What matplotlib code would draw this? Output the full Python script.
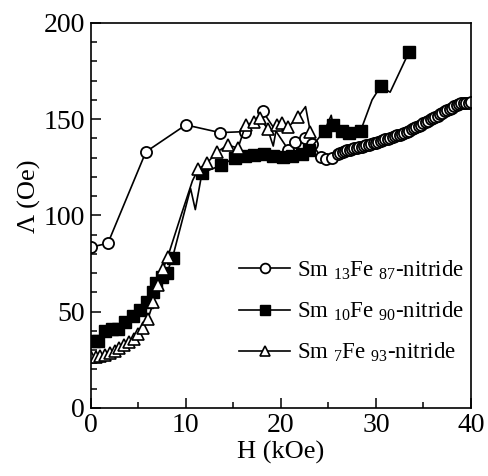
import matplotlib
matplotlib.use("Agg")
import matplotlib.pyplot as plt
import numpy as np

plt.rcParams['font.family'] = ['Liberation Serif', 'DejaVu Serif']
plt.rcParams['mathtext.fontset'] = 'custom'
plt.rcParams['mathtext.rm'] = 'Liberation Serif'
plt.rcParams['mathtext.it'] = 'Liberation Serif:italic'

# Sm13Fe87-nitride (open circles)
h_13 = [0, 1.8, 5.8, 10.0, 13.6, 16.2, 18.1, 20.8, 21.5, 22.5, 23.3, 24.2, 24.8,
        25.4, 26.0, 26.25, 26.5, 26.75, 27.0, 27.25, 27.5, 27.75, 28.0, 28.25,
        28.5, 28.75, 29.0, 29.25, 29.5, 29.75, 30.0, 30.25, 30.5, 30.75, 31.0,
        31.25, 31.5, 31.75, 32.0, 32.25, 32.5, 32.75, 33.0, 33.25, 33.5, 33.75,
        34.0, 34.25, 34.5, 34.75, 35.0, 35.25, 35.5, 35.75, 36.0, 36.25, 36.5,
        36.75, 37.0, 37.25, 37.5, 37.75, 38.0, 38.25, 38.5, 38.75, 39.0, 39.25,
        39.5, 39.75, 40.0]
a_13 = [83.5, 85.5, 133, 147, 143, 143.5, 154, 134, 138, 140, 137, 130.5, 129.5,
        130, 132, 132.5, 133, 133.5, 134, 134, 134.5, 135, 135, 135.5,
        135.5, 136, 136.5, 136.5, 137, 137.5, 137.5, 138, 138.5, 139, 139.5,
        139.5, 140, 140.5, 141, 141.5, 142, 142.5, 143, 143.5, 144, 145,
        145.5, 146, 146.5, 147, 148, 148.5, 149, 150, 150.5, 151, 151.5,
        152.5, 153, 154, 154.5, 155.5, 156, 157, 157.5, 158, 158.5, 158.5,
        158.5, 158.5, 159]

# Sm10Fe90-nitride (filled squares); False = no marker drawn at that point
h_10 = [0.3, 0.8, 1.5, 2.2, 2.9, 3.6, 4.4, 5.2, 5.9, 6.5, 6.9, 7.5, 8.0, 8.6,
        10.5, 11.0, 11.7, 13.7, 15.2, 16.2, 17.2, 18.2, 19.2, 20.2, 21.2, 22.2,
        23.0, 24.6, 25.3, 25.5, 26.4, 27.2, 28.4, 29.6, 30.5, 31.5, 33.5]
a_10 = [35, 35, 40, 41, 41, 44.5, 47.5, 51, 55, 60, 65, 68, 70, 78,
        114, 103, 122, 126, 130, 131, 131.5, 132, 131, 130.5, 131, 132,
        134, 144, 152, 147, 144, 143, 144, 160, 167, 164, 185]
m_10 = [True] * 14 + [False, False] + [True] * 12 + [False] + [True] * 4 + [False, True, False, True]

# Sm7Fe93-nitride (open triangles)
h_7 = [0, 0.5, 1.0, 1.5, 2.0, 2.5, 3.0, 3.5, 4.0, 4.5, 5.0, 5.5, 6.0, 6.6, 7.1,
       7.6, 8.1, 9.5, 10.7, 11.3, 12.2, 13.3, 14.4, 15.5, 16.3, 17.2, 17.8,
       18.6, 19.2, 19.6, 20.1, 20.8, 21.8, 22.6, 23.1]
a_7 = [26.5, 26.5, 27, 27.5, 28.5, 29.5, 31, 32.5, 34, 36, 38.5, 41.5, 46, 55, 64,
       72, 78.5, 100, 118, 124, 127, 133, 136.5, 135, 147, 148.5, 150.5,
       145, 136, 147, 148, 146, 151, 156.5, 143.5]
m_7 = [True] * 17 + [False, False] + [True] * 9 + [False] + [True] * 4 + [False, True]

fig = plt.figure(figsize=(4.88, 4.76), dpi=100)
ax = fig.add_axes([0.186, 0.143, 0.779, 0.809])

ax.plot(h_13, a_13, '-o', color='black', lw=1.2, ms=8, mfc='white', mew=1.3,
        label=r'Sm $_{13}$Fe $_{87}$-nitride')
ax.plot(h_10, a_10, '-s', color='black', lw=1.2, ms=8.5, mfc='black', mew=1.0,
        markevery=[i for i, m in enumerate(m_10) if m],
        label=r'Sm $_{10}$Fe $_{90}$-nitride')
ax.plot(h_7, a_7, '-^', color='black', lw=1.2, ms=8, mfc='white', mew=1.2,
        markevery=[i for i, m in enumerate(m_7) if m],
        label=r'Sm $_{7}$Fe $_{93}$-nitride')

ax.set_xlim(0, 40)
ax.set_ylim(0, 200)
ax.set_xticks([0, 10, 20, 30, 40])
ax.set_xticks(np.arange(0, 41, 5), minor=True)
ax.set_yticks([0, 50, 100, 150, 200])
ax.set_yticks(np.arange(0, 201, 10), minor=True)
ax.tick_params(which='both', direction='in', top=False, right=False,
               labelsize=20, width=1.1, pad=4)
ax.tick_params(which='major', length=7)
ax.tick_params(which='minor', length=4)
for s in ax.spines.values():
    s.set_linewidth(1.2)

ax.set_xlabel('H (kOe)', fontsize=19, labelpad=2)
ax.set_ylabel('Λ (Oe)', fontsize=19)
ax.yaxis.set_label_coords(-0.13, 0.55)

leg = ax.legend(loc='upper left', bbox_to_anchor=(0.349, 0.43), frameon=False,
                fontsize=16.5, handlelength=2.2, handletextpad=0.3,
                labelspacing=0.78, borderpad=0.2)
for h in leg.legend_handles:
    h.set_markersize(7)

fig.savefig('out.png', dpi=100)
